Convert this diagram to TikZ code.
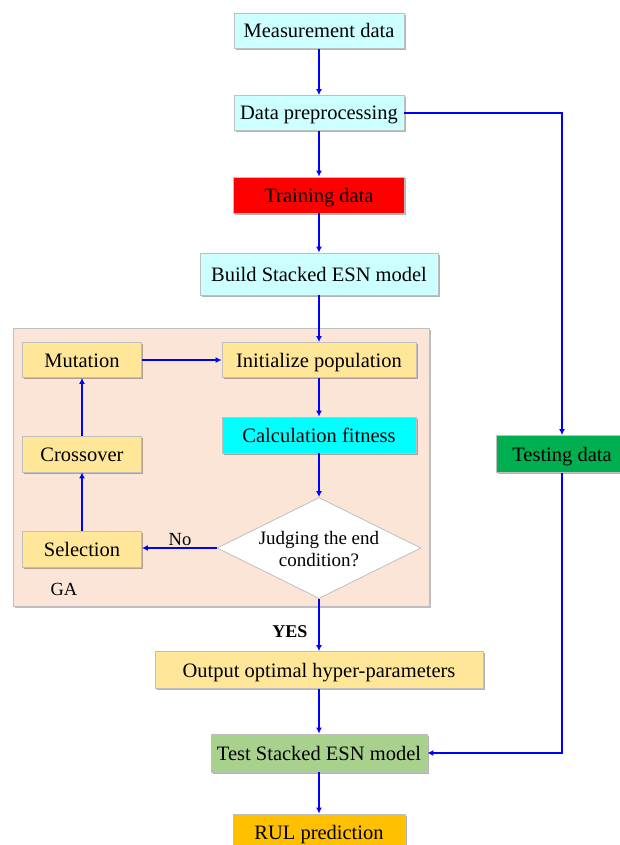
\documentclass[tikz,border=0pt]{standalone}
\usepackage{fontspec}
\setmainfont{Liberation Serif}
\usetikzlibrary{shapes.geometric,arrows.meta,shadows}
\definecolor{lcyan}{HTML}{CCFFFF}
\definecolor{boxred}{HTML}{FF0000}
\definecolor{boxyel}{HTML}{FFE699}
\definecolor{boxcyan}{HTML}{00FFFF}
\definecolor{boxgreen}{HTML}{00B050}
\definecolor{boxlgreen}{HTML}{A9D18E}
\definecolor{boxorange}{HTML}{FFC000}
\definecolor{gabg}{HTML}{FBE5D6}
\definecolor{bordergray}{HTML}{BFBFBF}
\definecolor{arrowblue}{HTML}{0000FF}
\tikzset{
  boxnode/.style={draw=bordergray, line width=0.8pt, rectangle, inner sep=0pt,
    font=\fontsize{20.5}{24}\selectfont, text height=18pt, text depth=4pt,
    drop shadow={shadow xshift=1.5pt, shadow yshift=-1.5pt, fill=black, opacity=0.3}},
  decnode/.style={draw=bordergray, line width=0.8pt, diamond, shape aspect=2, inner sep=0pt, fill=white,
    minimum width=204pt, minimum height=101pt},
  flow/.style={draw=arrowblue, line width=1.6pt, -{Latex[length=6pt,width=6pt]}},
  lbl/.style={font=\fontsize{18.5}{22}\selectfont, inner sep=0pt}
}
\begin{document}
\begin{tikzpicture}[x=1pt,y=-1pt]
\useasboundingbox (0,0) rectangle (619,845);
% GA region
\node[draw=bordergray, fill=gabg, line width=0.8pt, minimum width=416pt, minimum height=278pt, inner sep=0pt,
  drop shadow={shadow xshift=1.5pt, shadow yshift=-1.5pt, fill=black, opacity=0.25}] (ga) at (221,467) {};
\node[lbl] (galbl) at (64,589) {GA};

\node[boxnode, fill=lcyan, minimum width=170pt, minimum height=35pt] (md) at (319,31) {Measurement data};
\node[boxnode, fill=lcyan, minimum width=170pt, minimum height=35pt] (dp) at (319,113) {Data preprocessing};
\node[boxnode, fill=boxred, minimum width=171pt, minimum height=36pt] (td) at (319,195) {Training data};
\node[boxnode, fill=lcyan, minimum width=238pt, minimum height=42pt] (bs) at (319,274) {Build Stacked ESN model};
\node[boxnode, fill=boxyel, minimum width=119pt, minimum height=35pt] (mut) at (82,360) {Mutation};
\node[boxnode, fill=boxyel, minimum width=194pt, minimum height=35pt] (init) at (319,360) {Initialize population};
\node[boxnode, fill=boxcyan, minimum width=194pt, minimum height=36pt] (calc) at (319,435) {Calculation fitness};
\node[boxnode, fill=boxyel, minimum width=119pt, minimum height=36pt] (cross) at (82,454) {Crossover};
\node[boxnode, fill=boxyel, minimum width=119pt, minimum height=36pt] (sel) at (82,549) {Selection};
\node[decnode] (dec) at (319,548) {};
\node[align=center, font=\fontsize{19}{22}\selectfont, inner sep=0pt] (dectext) at (319,549) {Judging the end\\condition?};
\node[boxnode, fill=boxyel, minimum width=328pt, minimum height=37pt] (out) at (319,670) {Output optimal hyper-parameters};
\node[boxnode, fill=boxlgreen, minimum width=216pt, minimum height=38pt] (test) at (319,753) {Test Stacked ESN model};
\node[boxnode, fill=boxorange, minimum width=172pt, minimum height=36pt] (rul) at (319,832) {RUL prediction};
\node[boxnode, fill=boxgreen, minimum width=131pt, minimum height=37pt] (testing) at (562,454) {Testing data};

\node[lbl] (nolbl) at (180,540) {No};
\node[lbl, font=\fontsize{18}{22}\selectfont\bfseries] (yeslbl) at (290,632) {YES};

\draw[flow] (md.south) -- (dp.north);
\draw[flow] (dp.south) -- (td.north);
\draw[flow] (td.south) -- (bs.north);
\draw[flow] (bs.south) -- (init.north);
\draw[flow] (init.south) -- (calc.north);
\draw[flow] (calc.south) -- (dec.north);
\draw[flow] (dec.west) -- (sel.east |- dec.west);
\draw[flow] (sel.north) -- (cross.south);
\draw[flow] (cross.north) -- (mut.south);
\draw[flow] (mut.east) -- (init.west);
\draw[flow] (dec.south) -- (out.north);
\draw[flow] (out.south) -- (test.north);
\draw[flow] (test.south) -- (rul.north);
\draw[flow] (dp.east) -| (testing.north);
\draw[flow] (testing.south) |- (test.east);
\end{tikzpicture}
\end{document}
